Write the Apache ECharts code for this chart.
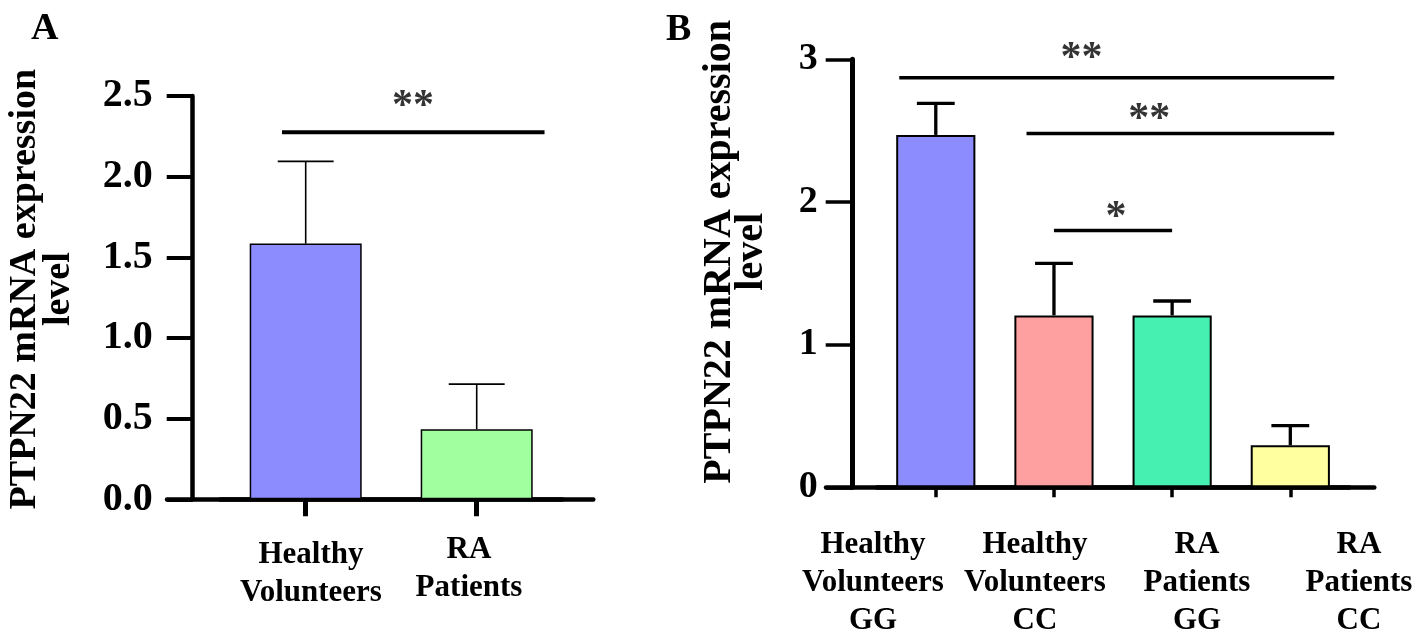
<!DOCTYPE html>
<html>
<head>
<meta charset="utf-8">
<script src="https://cdn.jsdelivr.net/npm/echarts@6/dist/echarts.min.js"></script>
<style>
html,body{margin:0;padding:0;background:#fff;}
#c{width:1417px;height:639px;}
</style>
</head>
<body>
<div id="c"></div>
<script>
// ---------- data ----------
const catsA = ['Healthy\nVolunteers', 'RA\nPatients'];
const meanA = [1.585, 0.434];
const sdA = [0.51, 0.28];
const colorsA = ['#8C8CFF', '#A2FFA0'];
const yTicksA = ['0.0', '0.5', '1.0', '1.5', '2.0', '2.5'];

const catsB = ['Healthy\nVolunteers\nGG', 'Healthy\nVolunteers\nCC', 'RA\nPatients\nGG', 'RA\nPatients\nCC'];
const meanB = [2.47, 1.205, 1.205, 0.295];
const sdB = [0.221, 0.365, 0.101, 0.137];
const colorsB = ['#8C8CFF', '#FFA0A0', '#45F0B0', '#FFFF9F'];
const yTicksB = ['0', '1', '2', '3'];

// significance brackets (x in category-index units, y in data units)
const sigFromA = [-0.139];
const sigToA = [1.395];
const sigLevelA = [2.275];
const sigTextA = ['**'];
const sigTextXA = [0.626];
const sigTextYA = [2.43];

const sigFromB = [-0.309, 0.768, 1.0];
const sigToB = [3.372, 3.372, 2.0];
const sigLevelB = [2.871, 2.48, 1.8];
const sigTextB = ['**', '**', '*'];
const sigTextXB = [1.233, 1.806, 1.525];
const sigTextYB = [3.0, 2.575, 1.885];

const axisNameText = 'PTPN22 mRNA expression\nlevel';

// ---------- helpers ----------
const FONT = 'Liberation Serif';

function errRender(lw, capFrac) {
  return function (params, api) {
    const x = api.value(0), m = api.value(1), e = api.value(2);
    const p0 = api.coord([x, m]);
    const p1 = api.coord([x, m + e]);
    const band = api.size([1, 0])[0];
    const half = band * capFrac / 2;
    return {
      type: 'group',
      children: [
        {type: 'line', shape: {x1: p0[0], y1: p0[1], x2: p1[0], y2: p1[1]}, style: {stroke: '#000', lineWidth: lw}},
        {type: 'line', shape: {x1: p1[0] - half, y1: p1[1], x2: p1[0] + half, y2: p1[1]}, style: {stroke: '#000', lineWidth: lw}}
      ]
    };
  };
}

function sigSeries(from, to, level, xIdx, yIdx, lw) {
  return from.map((f, i) => ({
    type: 'line', xAxisIndex: xIdx, yAxisIndex: yIdx, silent: true, clip: false,
    symbol: 'none', lineStyle: {color: '#000', width: lw}, z: 5,
    data: [[f, level[i]], [to[i], level[i]]]
  }));
}

function starSeries(texts, xs, ys, xIdx, yIdx, size) {
  return {
    type: 'scatter', xAxisIndex: xIdx, yAxisIndex: yIdx, silent: true, clip: false,
    symbolSize: 0, z: 6,
    label: {show: true, position: 'inside', formatter: '{b}', color: '#000',
      fontFamily: FONT, fontWeight: 'bold', fontSize: size},
    data: texts.map((t, i) => ({name: t, value: [xs[i], ys[i]]}))
  };
}

const gridBase = {containLabel: false, outerBoundsMode: 'none', show: false};

const option = {
  animation: false,
  backgroundColor: '#fff',
  title: [
    {text: 'A', left: 31, top: 10, padding: 0, textStyle: {fontFamily: FONT, fontWeight: 'bold', fontSize: 38, color: '#000'}},
    {text: 'B', left: 666, top: 11, padding: 0, textStyle: {fontFamily: FONT, fontWeight: 'bold', fontSize: 38, color: '#000'}}
  ],
  grid: [
    Object.assign({left: 220.2, top: 96, width: 342, height: 403.3}, gridBase),
    Object.assign({left: 167, top: 96, width: 426.3, height: 403.3}, gridBase),
    Object.assign({left: 232, top: 96, width: 316, height: 403.3}, gridBase),
    Object.assign({left: 876.7, top: 59.3, width: 472.7, height: 428}, gridBase),
    Object.assign({left: 826, top: 59.3, width: 548.3, height: 428}, gridBase),
    Object.assign({left: 792, top: 59.3, width: 648, height: 428}, gridBase)
  ],
  xAxis: [
    {gridIndex: 0, type: 'category', data: catsA,
      axisLine: {show: true, lineStyle: {color: '#000', width: 4.5}},
      axisTick: {show: true, alignWithLabel: true, length: 17, lineStyle: {color: '#000', width: 5}},
      axisLabel: {show: false}, splitLine: {show: false}},
    {gridIndex: 1, type: 'value', min: -0.811, max: 1.680,
      axisLine: {show: true, onZero: false, lineStyle: {color: '#000', width: 4.5}},
      axisTick: {show: false}, axisLabel: {show: false}, splitLine: {show: false}},
    {gridIndex: 2, type: 'category',
      data: catsA.map((c, i) => i === 0 ? {value: c, textStyle: {padding: [5, 0, 0, 0]}} : c),
      axisLine: {show: false}, axisTick: {show: false}, splitLine: {show: false},
      axisLabel: {show: true, interval: 0, margin: 32, color: '#000', fontFamily: FONT, fontWeight: 'bold',
        fontSize: 31, lineHeight: 38, align: 'center'}},
    {gridIndex: 3, type: 'category', data: catsB,
      axisLine: {show: true, lineStyle: {color: '#000', width: 4.5}},
      axisTick: {show: true, alignWithLabel: true, length: 10, lineStyle: {color: '#000', width: 3.5}},
      axisLabel: {show: false}, splitLine: {show: false}},
    {gridIndex: 4, type: 'value', min: -0.929, max: 3.711,
      axisLine: {show: true, onZero: false, lineStyle: {color: '#000', width: 4.5}},
      axisTick: {show: false}, axisLabel: {show: false}, splitLine: {show: false}},
    {gridIndex: 5, type: 'category', data: catsB,
      axisLine: {show: false}, axisTick: {show: false}, splitLine: {show: false},
      axisLabel: {show: true, interval: 0, margin: 39, color: '#000', fontFamily: FONT, fontWeight: 'bold',
        fontSize: 31, lineHeight: 38, align: 'center'}}
  ],
  yAxis: [
    {gridIndex: 0, type: 'value', min: 0, max: 2.5, interval: 0.5, offset: 27.5,
      axisLine: {show: true, lineStyle: {color: '#000', width: 4.5}},
      axisTick: {show: true, length: 26, lineStyle: {color: '#000', width: 4}},
      splitLine: {show: false},
      axisLabel: {show: true, margin: 40, color: '#000', fontFamily: FONT, fontWeight: 'bold', fontSize: 40,
        formatter: (v) => yTicksA[Math.round(v / 0.5)]},
      name: axisNameText, nameLocation: 'middle', nameRotate: 90, nameGap: 116.5, nameMoveOverlap: false,
      nameTextStyle: {color: '#000', fontFamily: FONT, fontWeight: 'bold', fontSize: 38, lineHeight: 34,
        align: 'center', padding: [0, 0, 0, 17]}},
    {gridIndex: 1, type: 'value', min: 0, max: 2.5, show: false},
    {gridIndex: 2, type: 'value', min: 0, max: 1, show: false},
    {gridIndex: 3, type: 'value', min: 0, max: 3, interval: 1, offset: 24,
      axisLine: {show: true, lineStyle: {color: '#000', width: 5}},
      axisTick: {show: true, length: 27, lineStyle: {color: '#000', width: 3.5}},
      splitLine: {show: false},
      axisLabel: {show: true, margin: 35, color: '#000', fontFamily: FONT, fontWeight: 'bold', fontSize: 38,
        formatter: (v) => yTicksB[Math.round(v)]},
      name: axisNameText, nameLocation: 'middle', nameRotate: 90, nameGap: 85, nameMoveOverlap: false,
      nameTextStyle: {color: '#000', fontFamily: FONT, fontWeight: 'bold', fontSize: 40, lineHeight: 32,
        align: 'center', padding: [0, 0, 0, 43]}},
    {gridIndex: 4, type: 'value', min: 0, max: 3, show: false},
    {gridIndex: 5, type: 'value', min: 0, max: 1, show: false}
  ],
  series: [
    {type: 'bar', xAxisIndex: 0, yAxisIndex: 0, barWidth: '65.5%', silent: true,
      data: meanA.map((v, i) => ({value: v, itemStyle: {color: colorsA[i], borderColor: '#000', borderWidth: 1.5}}))},
    {type: 'custom', xAxisIndex: 0, yAxisIndex: 0, silent: true, z: 4, clip: false,
      renderItem: errRender(1.6, 0.327), encode: {x: 0, y: 1},
      data: meanA.map((v, i) => [i, v, sdA[i]])},
    {type: 'bar', xAxisIndex: 3, yAxisIndex: 3, barWidth: '67%', silent: true,
      data: meanB.map((v, i) => ({value: v, itemStyle: {color: colorsB[i], borderColor: '#000', borderWidth: 2}}))},
    {type: 'custom', xAxisIndex: 3, yAxisIndex: 3, silent: true, z: 4, clip: false,
      renderItem: errRender(3.3, 0.32), encode: {x: 0, y: 1},
      data: meanB.map((v, i) => [i, v, sdB[i]])},
    ...sigSeries(sigFromA, sigToA, sigLevelA, 1, 1, 4),
    starSeries(sigTextA, sigTextXA, sigTextYA, 1, 1, 42),
    ...sigSeries(sigFromB, sigToB, sigLevelB, 4, 4, 3.5),
    starSeries(sigTextB, sigTextXB, sigTextYB, 4, 4, 42)
  ]
};

const chart = echarts.init(document.getElementById('c'), null, {renderer: 'canvas'});
chart.setOption(option);
</script>
</body>
</html>
